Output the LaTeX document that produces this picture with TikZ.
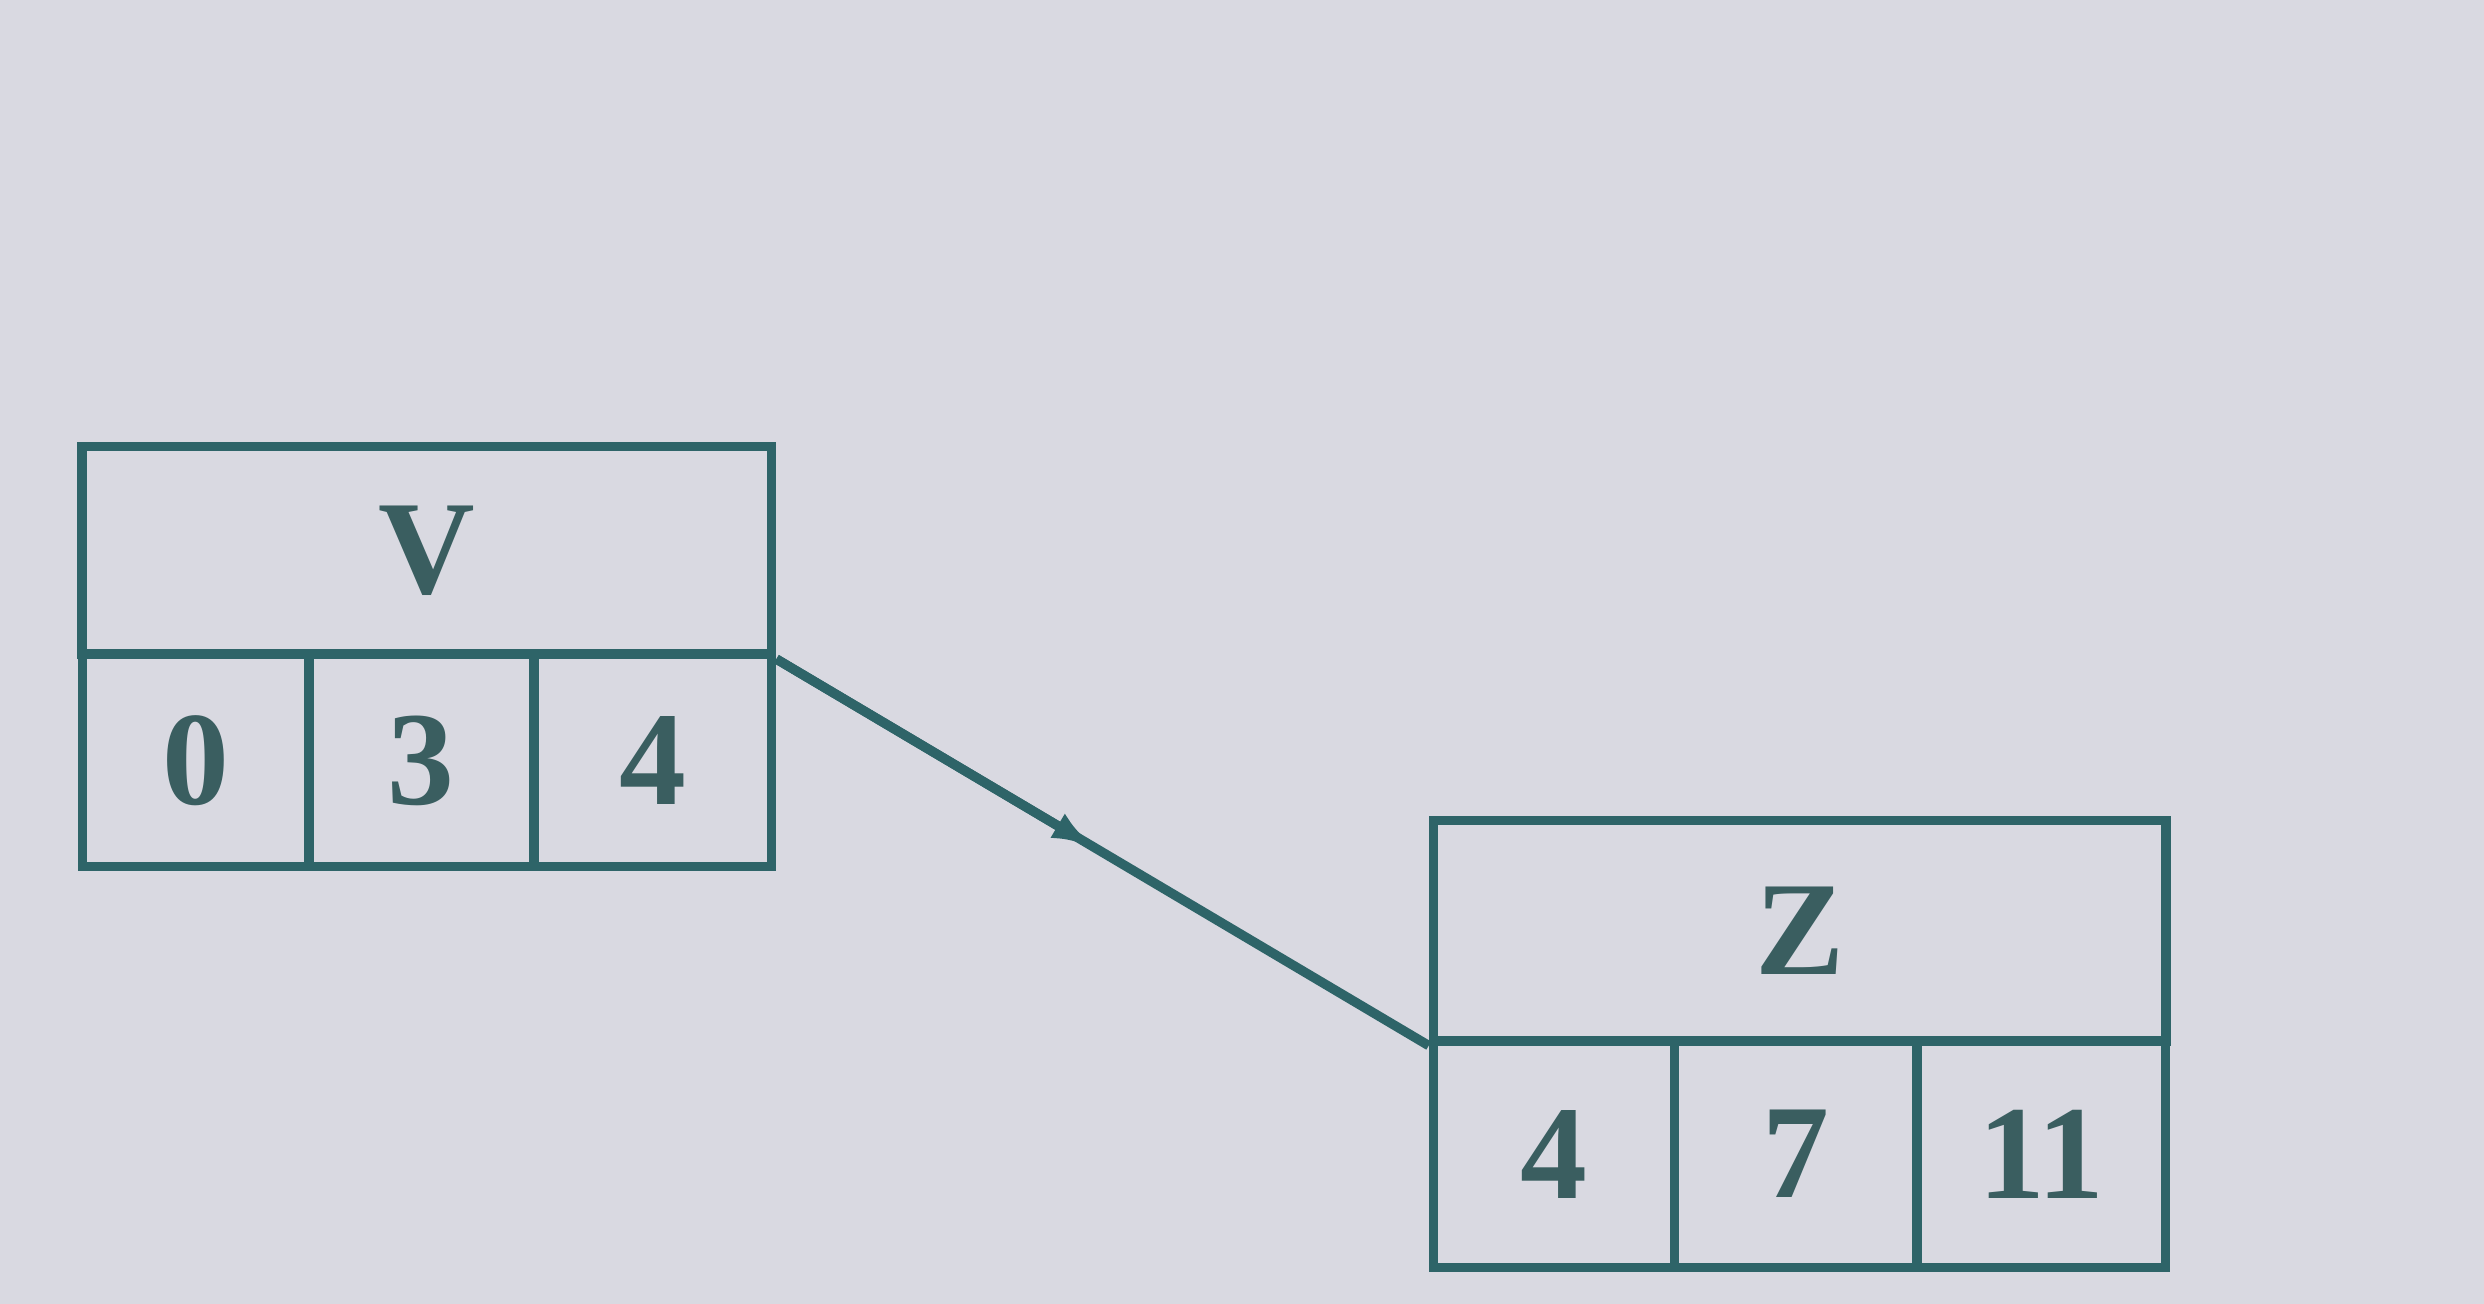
\documentclass[tikz,border=0pt]{standalone}
\usepackage{fontspec}
\setmainfont{Liberation Serif}
\usetikzlibrary{calc,arrows.meta}
\definecolor{ink}{HTML}{2E6468}
\definecolor{paper}{HTML}{D9D9E1}
\definecolor{txt}{HTML}{3A5E60}
\tikzset{
  cellbox/.style={draw=ink, line width=1.7pt, inner sep=0pt, text=txt,
    font=\fontsize{24}{28}\selectfont\bfseries},
  link/.style={draw=ink, line width=1.7pt},
  linkhead/.style={link, -{Latex[length=8pt,width=5pt]}}
}
\begin{document}
\begin{tikzpicture}[x=0.01cm,y=0.01cm]
\fill[paper] (0,0) rectangle (1568,823);
\useasboundingbox (0,0) rectangle (1568,823);
% V box
\node[cellbox, minimum width=4.35cm, minimum height=1.31cm] (Vh) at (269.5,475.5) {V};
\node[cellbox, minimum width=1.43cm, minimum height=1.34cm] (V1) at (123.5,343) {0};
\node[cellbox, minimum width=1.42cm, minimum height=1.34cm] (V2) at (266,343) {3};
\node[cellbox, minimum width=1.50cm, minimum height=1.34cm] (V3) at (412,343) {4};
% Z box
\node[cellbox, minimum width=4.62cm, minimum height=1.39cm] (Zh) at (1136,235.5) {Z};
\node[cellbox, minimum width=1.52cm, minimum height=1.43cm] (Z1) at (981,94.5) {4};
\node[cellbox, minimum width=1.53cm, minimum height=1.43cm] (Z2) at (1133.5,94.5) {7};
\node[cellbox, minimum width=1.57cm, minimum height=1.43cm] (Z3) at (1288.5,94.5) {11};
% connector with mid arrow
\coordinate (mid) at ($(Vh.south east)!0.49!(Zh.south west)$);
\draw[link] (Vh.south east) -- (Zh.south west);
\draw[linkhead] (Vh.south east) -- (mid);
\end{tikzpicture}
\end{document}
